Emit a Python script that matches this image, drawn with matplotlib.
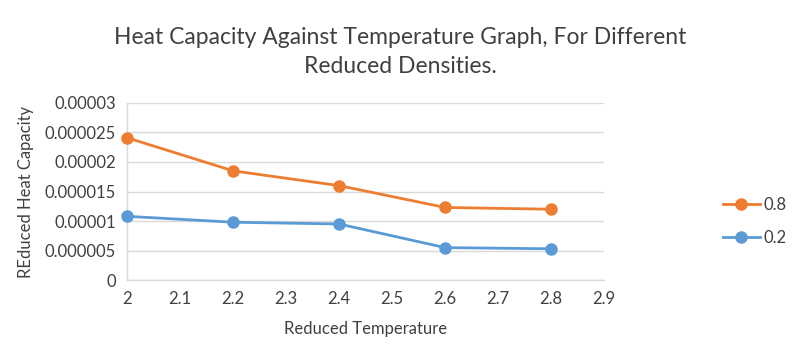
import matplotlib.pyplot as plt
from matplotlib.ticker import FixedLocator, FixedFormatter

plt.rcParams['font.family'] = ['Lato', 'DejaVu Sans']

temperature = [2.0, 2.2, 2.4, 2.6, 2.8]
cv_08 = [0.0000241, 0.0000185, 0.0000160, 0.0000123, 0.0000120]
cv_02 = [0.0000108, 0.0000098, 0.0000095, 0.0000055, 0.0000053]

x_ticks = [2, 2.1, 2.2, 2.3, 2.4, 2.5, 2.6, 2.7, 2.8, 2.9]
x_labels = ["2", "2.1", "2.2", "2.3", "2.4", "2.5", "2.6", "2.7", "2.8", "2.9"]
y_ticks = [0, 0.000005, 0.00001, 0.000015, 0.00002, 0.000025, 0.00003]
y_labels = ["0", "0.000005", "0.00001", "0.000015", "0.00002", "0.000025", "0.00003"]

ORANGE = "#ED7D31"
BLUE = "#5B9BD5"
TEXT = "#404040"
GRID = "#D9D9D9"

fig = plt.figure(figsize=(8, 3.6), dpi=100)
ax = fig.add_axes([0.159, 0.222, 0.596, 0.492])

l1, = ax.plot(temperature, cv_08, color=ORANGE, lw=2, marker="o", ms=8,
              label="0.8", clip_on=False, zorder=3)
l2, = ax.plot(temperature, cv_02, color=BLUE, lw=2, marker="o", ms=8,
              label="0.2", clip_on=False, zorder=3)

ax.set_xlim(2, 2.9)
ax.set_ylim(0, 0.00003)
ax.xaxis.set_major_locator(FixedLocator(x_ticks))
ax.xaxis.set_major_formatter(FixedFormatter(x_labels))
ax.yaxis.set_major_locator(FixedLocator(y_ticks))
ax.yaxis.set_major_formatter(FixedFormatter(y_labels))
ax.tick_params(length=0, labelsize=12, colors=TEXT, pad=8)

ax.grid(axis="y", color=GRID, lw=1)
ax.set_axisbelow(True)
for s in ["top", "right"]:
    ax.spines[s].set_visible(False)
for s in ["left", "bottom"]:
    ax.spines[s].set_color(GRID)
    ax.spines[s].set_linewidth(1)
    ax.spines[s].set_zorder(1)

ax.set_xlabel("Reduced Temperature", fontsize=12, color=TEXT, labelpad=10)
ax.set_ylabel("REduced Heat Capacity", fontsize=12, color=TEXT, labelpad=8)

fig.text(0.5, 0.855, "Heat Capacity Against Temperature Graph, For Different\nReduced Densities.",
         ha="center", va="center", fontsize=16.5, color=TEXT, linespacing=1.45)

fig.legend(handles=[l1, l2], loc="center left", bbox_to_anchor=(0.885, 0.385),
           frameon=False, fontsize=12, labelcolor=TEXT, handlelength=2.2,
           handletextpad=0.2, labelspacing=1.0)

fig.savefig("out.png", dpi=100)
